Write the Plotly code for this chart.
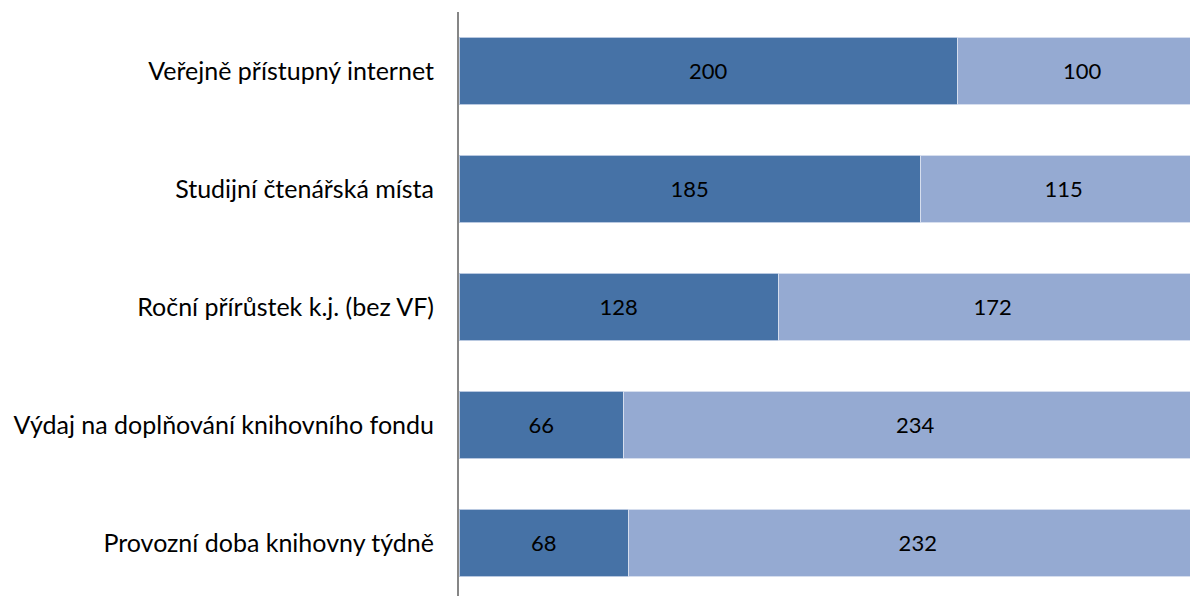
import plotly.graph_objects as go

categories = [
    "Veřejně přístupný internet",
    "Studijní čtenářská místa",
    "Roční přírůstek k.j. (bez VF)",
    "Výdaj na doplňování knihovního fondu",
    "Provozní doba knihovny týdně",
]
series_a = [200, 185, 128, 66, 68]
series_b = [100, 115, 172, 234, 232]

font_family = "Lato, 'Open Sans', sans-serif"

fig = go.Figure()
fig.add_trace(go.Bar(
    y=categories, x=series_a, orientation="h",
    marker=dict(color="#4672A6", line=dict(color="#B8C8E0", width=1)),
    text=[str(v) for v in series_a], textposition="inside",
    insidetextanchor="middle",
    textfont=dict(color="black", size=22, family=font_family),
    hoverinfo="skip",
))
fig.add_trace(go.Bar(
    y=categories, x=series_b, orientation="h",
    marker=dict(color="#95AAD2", line=dict(color="#D6DEEE", width=1)),
    text=[str(v) for v in series_b], textposition="inside",
    insidetextanchor="middle",
    textfont=dict(color="black", size=22, family=font_family),
    hoverinfo="skip",
))

fig.update_layout(
    width=1190, height=588,
    barmode="stack", bargap=0.43,
    showlegend=False,
    plot_bgcolor="white", paper_bgcolor="white",
    margin=dict(l=451, r=0, t=4, b=0),
    font=dict(family=font_family, size=25, color="black"),
    uniformtext=dict(minsize=22, mode="show"),
)
fig.update_xaxes(range=[0, 296.4], visible=False)
fig.update_yaxes(
    type="category", categoryorder="array", categoryarray=categories,
    range=[4.45, -0.5],
    showline=True, linecolor="#868686", linewidth=2,
    ticks="", showgrid=False, zeroline=False,
    ticklabelstandoff=18,
    tickfont=dict(size=25, family=font_family, color="black"),
)

fig.write_html("out.html")
